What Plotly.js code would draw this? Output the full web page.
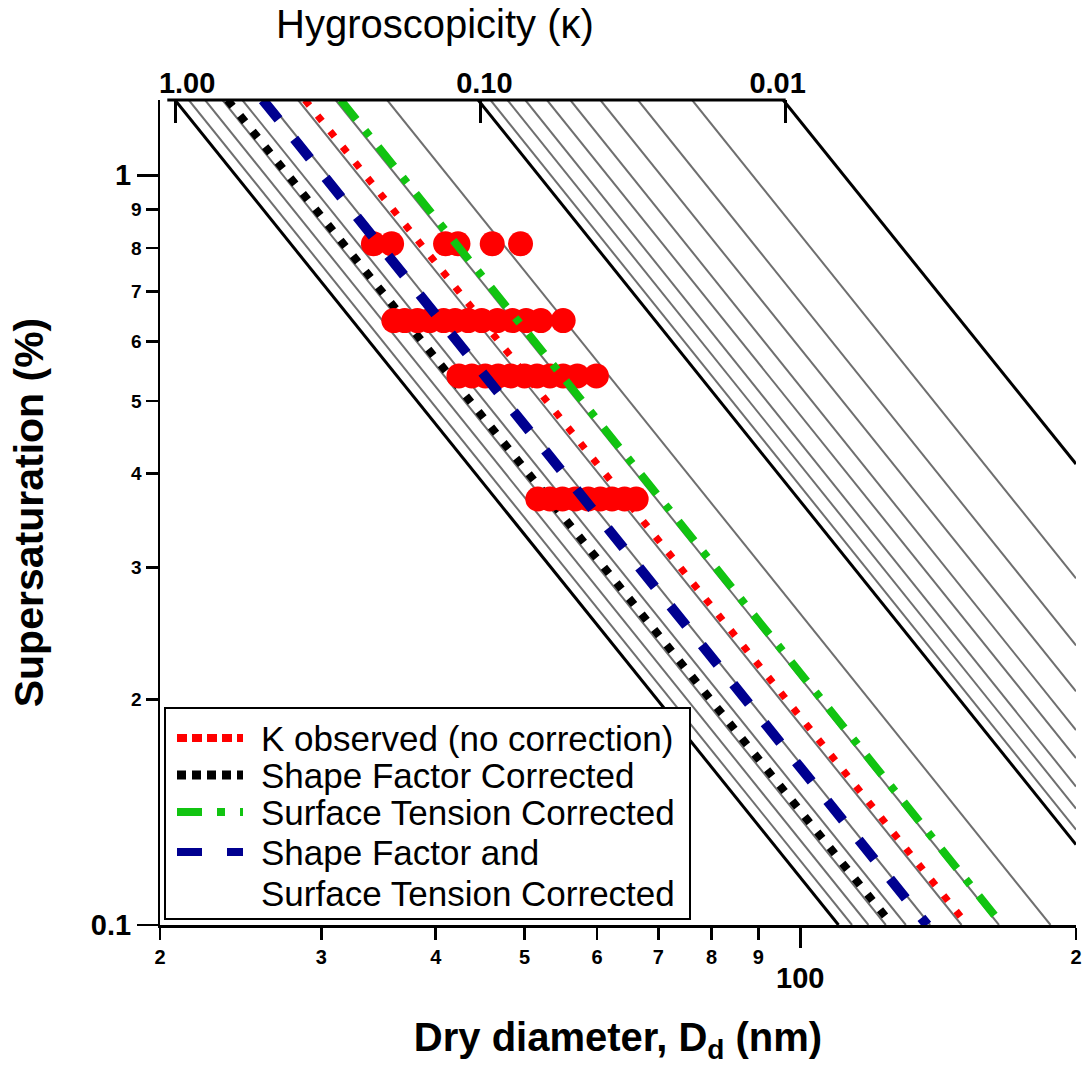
<!DOCTYPE html>
<html><head><meta charset="utf-8">
<script src="https://cdn.plot.ly/plotly-3.0.1.min.js"></script>
<style>html,body{margin:0;padding:0;background:#fff}#chart{width:1082px;height:1065px}</style>
</head><body><div id="chart"></div>
<script>
// ---- data ----
// Köhler/kappa reference lines: dry diameter (nm) where each line meets the top edge (S = 1.26 %)
// and the end point (bottom edge S = 0.1 %, or right edge D = 200 nm)
const kappaVals = [1, 0.9, 0.8, 0.7, 0.6, 0.5, 0.4, 0.3, 0.2, 0.1, 0.09, 0.08, 0.07, 0.06, 0.05, 0.04, 0.03, 0.02, 0.01];
const kappaTopD = [20.77, 21.5, 22.4, 23.4, 24.6, 26.2, 28.3, 31.1, 35.4, 44.5, 45.9, 47.9, 50.1, 52.9, 56.1, 60.5, 66.5, 76.2, 95.8];
const kappaEndD = [110.1, 113.9, 118.7, 124.0, 130.4, 138.6, 150.0, 164.8, 187.6, 200, 200, 200, 200, 200, 200, 200, 200, 200, 200];
const kappaEndS = [0.1, 0.1, 0.1, 0.1, 0.1, 0.1, 0.1, 0.1, 0.1, 0.128, 0.134, 0.143, 0.153, 0.167, 0.182, 0.205, 0.236, 0.290, 0.412];
const S_TOP = 1.26;
const S_BOTTOM = 0.1;

// fitted kappa lines
const fitNames = ['K observed (no correction)', 'Shape Factor Corrected', 'Surface Tension Corrected', 'Shape Factor and Surface Tension Corrected'];
const fitTopD = [28.8, 23.7, 31.5, 25.9];
const fitEndD = [152.2, 126.0, 166.2, 137.6];

// observed critical diameters (nm) at each supersaturation (%)
const obsD = [34.2, 35.8, 41.0, 42.3, 46.1, 49.5,
  36.0, 37.0, 38.2, 39.4, 40.8, 42.0, 43.4, 44.9, 46.7, 48.5, 50.2, 52.1, 55.1,
  42.4, 43.8, 45.3, 46.8, 48.3, 50.0, 51.6, 53.3, 55.1, 57.1, 59.9,
  51.7, 53.3, 55.0, 56.8, 58.7, 60.5, 62.3, 64.3, 66.2];
const obsS = [0.81, 0.81, 0.81, 0.81, 0.81, 0.81,
  0.64, 0.64, 0.64, 0.64, 0.64, 0.64, 0.64, 0.64, 0.64, 0.64, 0.64, 0.64, 0.64,
  0.54, 0.54, 0.54, 0.54, 0.54, 0.54, 0.54, 0.54, 0.54, 0.54, 0.54,
  0.37, 0.37, 0.37, 0.37, 0.37, 0.37, 0.37, 0.37, 0.37];

// tick labels
const xMinorTicks = [20, 30, 40, 50, 60, 70, 80, 90, 200];
const xMinorText = ['2', '3', '4', '5', '6', '7', '8', '9', '2'];
const xMajorTicks = [100];
const xMajorText = ['100'];
const yMinorTicks = [0.2, 0.3, 0.4, 0.5, 0.6, 0.7, 0.8, 0.9];
const yMinorText = ['2', '3', '4', '5', '6', '7', '8', '9'];
const yMajorTicks = [0.1, 1];
const yMajorText = ['0.1', '1'];
const kappaTicks = [1, 0.1, 0.01];
const kappaTickText = ['1.00', '0.10', '0.01'];

// ---- styles ----
const NB = '\u00a0';
const kappaTickPad = [NB + NB + NB + '1.00', NB + '0.10', '0.01' + NB + NB];
const fitStyles = [
  {color: '#ff0000', width: 7, dash: '7px,13px'},
  {color: '#000000', width: 8, dash: '8px,12px'},
  {color: '#11c411', width: 8, dash: '25px,14px,7px,14px'},
  {color: '#000090', width: 10, dash: '25px,25px'}
];
const legendStyles = [
  {color: '#ff0000', width: 8, dash: '10px,5px'},
  {color: '#000000', width: 9, dash: '9px,6px'},
  {color: '#11c411', width: 8, dash: '25px,15px,8px,15px'},
  {color: '#000090', width: 8, dash: '25px,25px'}
];

const FONT = 'Liberation Sans, Arial, Helvetica, sans-serif';
const traces = [];
kappaVals.forEach((k, i) => {
  const major = kappaTicks.includes(k);
  traces.push({
    type: 'scatter', mode: 'lines', x: [kappaTopD[i], kappaEndD[i]], y: [S_TOP, kappaEndS[i]],
    line: {color: major ? '#000000' : '#6f6f6f', width: major ? 3 : 2},
    hoverinfo: 'skip', showlegend: false
  });
});
function fitTrace(i, xa, ya) {
  return {type: 'scatter', mode: 'lines', name: fitNames[i], x: [fitTopD[i], fitEndD[i]], y: [S_TOP, S_BOTTOM],
    line: fitStyles[i], showlegend: false, xaxis: xa, yaxis: ya};
}
traces.push(fitTrace(1, 'x', 'y'));
traces.push(fitTrace(0, 'x', 'y'));
// upper layer (same scales: x3 and y2 overlay x and y with identical ranges)
traces.push({type: 'scatter', mode: 'markers', name: 'observed', x: obsD, y: obsS, xaxis: 'x3', yaxis: 'y2',
  marker: {color: '#ff0000', size: 25, line: {width: 0}}, showlegend: false});
traces.push(fitTrace(2, 'x3', 'y2'));
traces.push(fitTrace(3, 'x3', 'y2'));

// plot area in px: left 160, right 1076, top 100, bottom 925
const PL = 160, PW = 916, PT = 100, PH = 825;
const px = p => (p - PL) / PW;
const py = p => (PT + PH - p) / PH;

const shapes = [];
const annotations = [];
// top kappa axis line (from just left of kappa=1 to kappa=0.01)
shapes.push({type: 'line', xref: 'x2', yref: 'paper', x0: 1.06, x1: 0.01, y0: 1, y1: 1, line: {color: '#000', width: 3}});
// legend box
shapes.push({type: 'rect', xref: 'paper', yref: 'paper', x0: px(165), x1: px(690), y0: py(919), y1: py(708),
  line: {color: '#000', width: 2}, fillcolor: '#fff', layer: 'above'});
const rowY = [738, 775, 812, 852];
const legendText = ['K observed (no correction)', 'Shape Factor Corrected', 'Surface Tension Corrected', 'Shape Factor and'];
for (let i = 0; i < 4; i++) {
  shapes.push({type: 'line', xref: 'paper', yref: 'paper', x0: px(177), x1: px(243), y0: py(rowY[i]), y1: py(rowY[i]),
    line: legendStyles[i], layer: 'above'});
  annotations.push({xref: 'paper', yref: 'paper', x: px(259), y: py(rowY[i]), xanchor: 'left', yanchor: 'middle',
    text: legendText[i], showarrow: false, font: {size: 35, family: FONT, color: '#000'}});
}
annotations.push({xref: 'paper', yref: 'paper', x: px(259), y: py(893), xanchor: 'left', yanchor: 'middle',
  text: 'Surface Tension Corrected', showarrow: false, font: {size: 35, family: FONT, color: '#000'}});

const kLeft = 3 * Math.log10(kappaTopD[0] / 20);
const xr = [Math.log10(20), Math.log10(200)];
const yr = [Math.log10(S_BOTTOM), Math.log10(S_TOP)];

const layout = {
  width: 1082, height: 1065,
  margin: {l: PL, r: 1082 - PL - PW, t: PT, b: 1065 - PT - PH},
  paper_bgcolor: '#fff', plot_bgcolor: 'rgba(0,0,0,0)',
  showlegend: false,
  font: {family: FONT, color: '#000'},
  title: {text: 'Hygroscopicity (κ)', font: {size: 40, family: FONT}, x: 0.402, xanchor: 'center', y: 0.977, yanchor: 'middle'},
  xaxis: {type: 'log', range: xr, tickmode: 'array', tickvals: xMinorTicks, ticktext: xMinorText,
    ticks: 'outside', ticklen: 12, tickwidth: 2.5, tickcolor: '#000', showline: true, linewidth: 2.5, linecolor: '#000',
    showgrid: false, zeroline: false, tickfont: {size: 20, weight: 'bold'},
    title: {text: 'Dry diameter, D<sub>d</sub> (nm)', font: {size: 40, weight: 'bold'}, standoff: 72}},
  xaxis3: {type: 'log', range: xr, overlaying: 'x', anchor: 'y2', side: 'bottom', tickmode: 'array', tickvals: xMajorTicks, ticktext: xMajorText,
    ticks: 'outside', ticklen: 22, tickwidth: 2.5, tickcolor: '#000', showline: false, showgrid: false, zeroline: false,
    tickfont: {size: 29, weight: 'bold'}, ticklabelstandoff: 5},
  xaxis2: {type: 'log', range: [kLeft, kLeft - 3], overlaying: 'x', anchor: 'y', side: 'top', tickmode: 'array',
    tickvals: kappaTicks, ticktext: kappaTickPad, ticks: 'inside', ticklen: 23, tickwidth: 3, tickcolor: '#000',
    showline: false, showgrid: false, zeroline: false, tickfont: {size: 29, weight: 'bold'}},
  yaxis: {type: 'log', range: yr, tickmode: 'array', tickvals: yMinorTicks, ticktext: yMinorText,
    ticks: 'outside', ticklen: 12, tickwidth: 2.5, tickcolor: '#000', showline: true, linewidth: 2.5, linecolor: '#000',
    showgrid: false, zeroline: false, tickfont: {size: 19, weight: 'bold'},
    title: {text: 'Supersaturation (%)', font: {size: 41, weight: 'bold'}, standoff: 75}},
  yaxis2: {type: 'log', range: yr, overlaying: 'y', anchor: 'x3', side: 'left', tickmode: 'array', tickvals: yMajorTicks, ticktext: yMajorText,
    ticks: 'outside', ticklen: 22, tickwidth: 2.5, tickcolor: '#000', showline: false, showgrid: false, zeroline: false,
    tickfont: {size: 29, weight: 'bold'}},
  shapes: shapes,
  annotations: annotations
};
Plotly.newPlot('chart', traces, layout, {displayModeBar: false, staticPlot: true});
</script>
</body></html>
